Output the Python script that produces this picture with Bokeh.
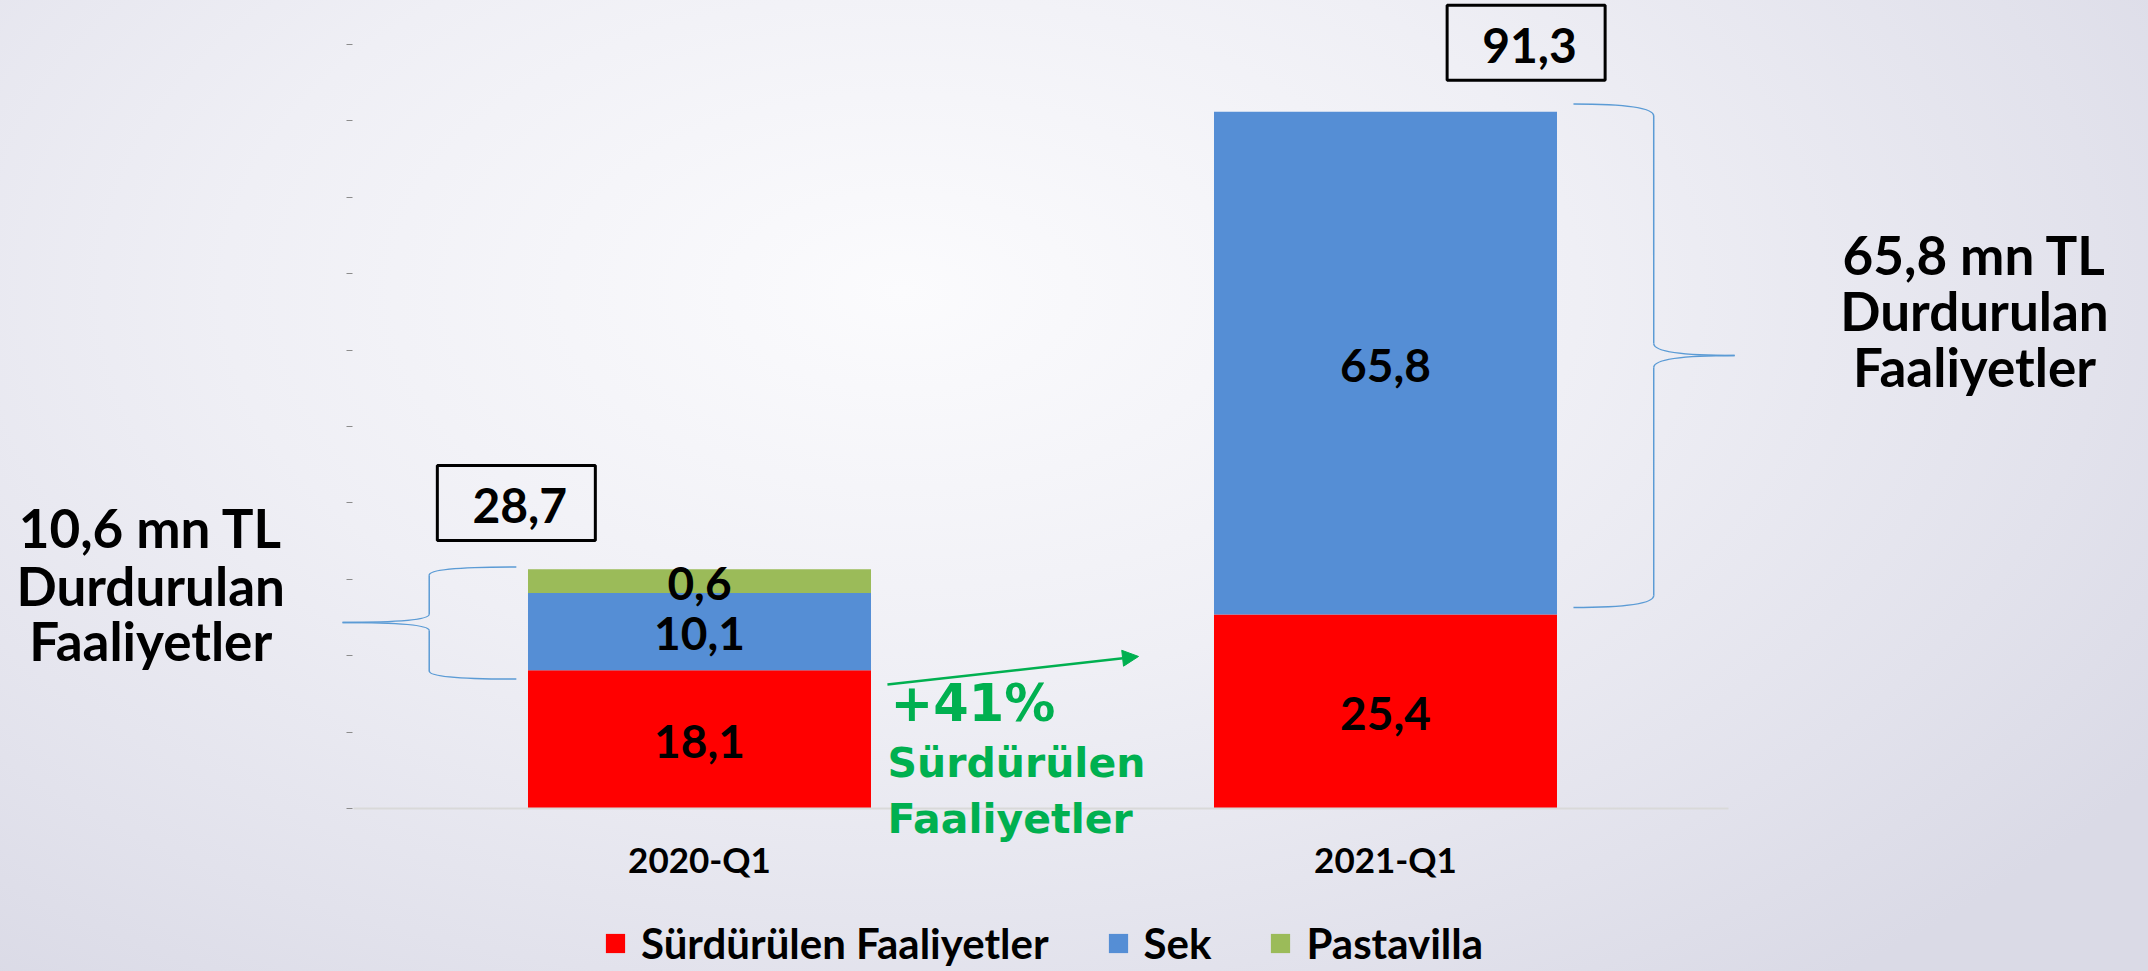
from bokeh.plotting import figure
from bokeh.models import (ColumnDataSource, Range1d, FixedTicker, Label, Legend,
                          LegendItem, Arrow, NormalHead)
from bokeh.core.properties import value
from bokeh.embed import file_html
from bokeh.resources import INLINE

# ---------------- data ----------------
categories = ["2020-Q1", "2021-Q1"]
surdurulen = [18.1, 25.4]
sek = [10.1, 65.8]
pastavilla = [3.1, 0.0]          # segment height as drawn in the picture
surdurulen_labels = ["18,1", "25,4"]
sek_labels = ["10,1", "65,8"]
pastavilla_labels = ["0,6", ""]
total_labels = ["28,7", "91,3"]
series_names = ["Sürdürülen Faaliyetler", "Sek", "Pastavilla"]
colors = ["#ff0000", "#558ed5", "#9bbb59"]
y_ticks = list(range(0, 101, 10))
growth_text = ["+41%", "Sürdürülen", "Faaliyetler"]
left_note = ["10,6 mn TL", "Durdurulan", "Faaliyetler"]
right_note = ["65,8 mn TL", "Durdurulan", "Faaliyetler"]

# ---------------- styling ----------------
GREEN = "#00b050"
BRACE = "#5b9bd5"
FONT = "Lato"

xs = [i + 0.5 for i in range(len(categories))]

p = figure(width=2148, height=971, output_backend="svg", toolbar_location=None,
           x_range=Range1d(-0.51895, 2.61225), y_range=Range1d(-21.335, 105.76),
           min_border=0)
p.outline_line_color = None
p.background_fill_alpha = 0
p.border_fill_alpha = 0
p.styles = {"background": "radial-gradient(ellipse 70% 90% at 42% 30%, #fbfbfd 0%, #efeff5 45%, #e2e2ec 80%, #dadae6 100%)"}
p.xgrid.visible = False
p.ygrid.visible = False

# x axis drawn at y = 0 (baseline + category labels)
p.xaxis.fixed_location = 0
p.xaxis.ticker = FixedTicker(ticks=xs)
p.xaxis.major_label_overrides = {x: c for x, c in zip(xs, categories)}
p.xaxis.major_tick_in = 0
p.xaxis.major_tick_out = 0
p.xaxis.minor_tick_line_color = None
p.xaxis.axis_line_color = "#d9d9d9"
p.xaxis.axis_line_width = 2
p.xaxis.bounds = (-0.004, 2.0)
p.xaxis.major_label_text_font = FONT
p.xaxis.major_label_text_font_style = "bold"
p.xaxis.major_label_text_font_size = "35px"
p.xaxis.major_label_text_color = "black"
p.xaxis.major_label_standoff = 29

# y axis: only tiny tick marks
p.yaxis.fixed_location = -0.0058
p.yaxis.ticker = FixedTicker(ticks=y_ticks)
p.yaxis.axis_line_color = None
p.yaxis.major_tick_in = 0
p.yaxis.major_tick_out = 6
p.yaxis.major_tick_line_color = "#8c8c8c"
p.yaxis.minor_tick_line_color = None
p.yaxis.major_label_overrides = {t: "" for t in y_ticks}

# stacked bars
src = ColumnDataSource(dict(x=xs, s=surdurulen, k=sek, pv=pastavilla))
bars = p.vbar_stack(["s", "k", "pv"], x="x", width=0.5, color=colors,
                    line_width=0, source=src)

# segment labels
lx, ly, lt = [], [], []
for i in range(len(categories)):
    base = 0.0
    for vals, labs in zip([surdurulen, sek, pastavilla],
                          [surdurulen_labels, sek_labels, pastavilla_labels]):
        if labs[i]:
            lx.append(xs[i]); ly.append(base + vals[i] / 2); lt.append(labs[i])
        base += vals[i]
p.text(x=lx, y=ly, text=lt, text_align="center", text_baseline="middle",
       text_font=value(FONT), text_font_style="bold", text_font_size="46px",
       text_color="black", y_offset=2)

# total boxes
totals = [a + b + c for a, b, c in zip(surdurulen, sek, pastavilla)]
box_dx = [-0.267, 0.205]
box_dy = [8.7, 9.03]
bx = [x + d for x, d in zip(xs, box_dx)]
by = [t + d for t, d in zip(totals, box_dy)]
p.rect(x=bx, y=by, width=158, height=75, width_units="screen", height_units="screen",
       fill_alpha=0, line_color="black", line_width=3)
p.text(x=[x + 0.005 for x in bx], y=by, text=total_labels, text_align="center",
       text_baseline="middle", text_font=value(FONT), text_font_style="bold",
       text_font_size="48px", text_color="black", y_offset=3)


# braces
def brace(x_end, x_mid, x_tip, y_bot, y_top, y_tip, d):
    p.quadratic(x0=[x_end, x_mid, x_mid, x_end], y0=[y_top, y_tip + d, y_tip - d, y_bot],
                x1=[x_mid, x_tip, x_tip, x_mid], y1=[y_top - d, y_tip, y_tip, y_bot + d],
                cx=[x_mid, x_mid, x_mid, x_mid], cy=[y_top, y_tip, y_tip, y_bot],
                line_color=BRACE, line_width=1.5)
    p.segment(x0=[x_mid, x_mid], y0=[y_top - d, y_tip - d],
              x1=[x_mid, x_mid], y1=[y_tip + d, y_bot + d],
              line_color=BRACE, line_width=1.5)


brace(xs[0] - 0.267, xs[0] - 0.394, xs[0] - 0.5204, surdurulen[0] - 1.15,
      totals[0] + 0.3, 24.35, 1.06)
brace(xs[1] + 0.274, xs[1] + 0.391, xs[1] + 0.509, surdurulen[1] + 0.9,
      totals[1] + 1.0, 59.3, 1.57)

# growth arrow and text
p.add_layout(Arrow(x_start=0.774, y_start=16.23, x_end=1.140, y_end=19.90,
                   line_color=GREEN, line_width=2.5,
                   end=NormalHead(size=16, fill_color=GREEN, line_color=GREEN)))
for txt, x, y, fs in zip(growth_text, [0.7784, 0.774, 0.774], [13.7, 5.9, -1.4],
                         ["51px", "41px", "41px"]):
    p.add_layout(Label(x=x, y=y, text=txt, text_font="DejaVu Sans", text_font_style="bold",
                       text_font_size=fs, text_color=GREEN, text_align="left",
                       text_baseline="middle"))

# side notes
for txt, y in zip(left_note, [36.75, 29.15, 21.95]):
    p.add_layout(Label(x=-0.300, y=y, text=txt, text_font=FONT, text_font_style="bold",
                       text_font_size="53px", text_color="black", text_align="center",
                       text_baseline="middle"))
for txt, y in zip(right_note, [72.55, 65.2, 57.9]):
    p.add_layout(Label(x=2.3586, y=y, text=txt, text_font=FONT, text_font_style="bold",
                       text_font_size="53px", text_color="black", text_align="center",
                       text_baseline="middle"))

# legend
legend = Legend(items=[LegendItem(label=n, renderers=[r]) for n, r in zip(series_names, bars)],
                orientation="horizontal", location=(603, 3), glyph_width=24,
                glyph_height=24, label_standoff=14, spacing=57, padding=0, margin=0,
                border_line_color=None, background_fill_alpha=0, label_height=24,
                label_text_font=FONT, label_text_font_style="bold",
                label_text_baseline="alphabetic",
                label_text_font_size="42px", label_text_color="black")
p.add_layout(legend, "center")

open("out.html", "w").write(file_html(p, INLINE))
